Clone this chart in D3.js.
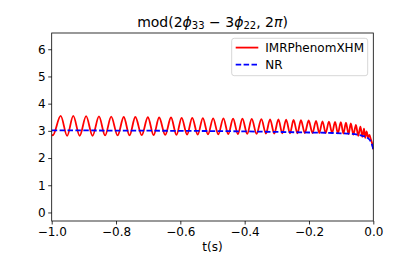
<!DOCTYPE html>
<html>
<head>
<meta charset="utf-8">
<script src="https://cdn.jsdelivr.net/npm/d3@7"></script>
<style>
  body { margin: 0; background: #fff; }
  svg { font-family: "DejaVu Sans", sans-serif; }
</style>
</head>
<body>
<div id="chart"></div>
<script>
// IMRPhenomXHM: alternating peaks / troughs
const xhmTime = [
  -1.000, -0.997, -0.972, -0.952, -0.933, -0.913, -0.893, -0.873, -0.853, -0.834,
  -0.815, -0.795, -0.776, -0.758, -0.740, -0.720, -0.701, -0.683, -0.666, -0.647,
  -0.629, -0.612, -0.596, -0.579, -0.563, -0.546, -0.530, -0.514, -0.498, -0.482,
  -0.466, -0.451, -0.436, -0.421, -0.407, -0.392, -0.378, -0.363, -0.348, -0.334,
  -0.321, -0.308, -0.295, -0.283, -0.271, -0.259, -0.248, -0.236, -0.225, -0.213,
  -0.201, -0.189, -0.178, -0.168, -0.158, -0.148, -0.138, -0.128, -0.119, -0.110,
  -0.101, -0.093, -0.085, -0.077, -0.070, -0.062, -0.054, -0.047, -0.040, -0.034,
  -0.029, -0.025, -0.021, -0.016, -0.012, -0.008, -0.004, 0.000
];
const xhmValue = [
  2.86, 2.83, 3.55, 2.82, 3.55, 2.82, 3.54, 2.82, 3.53, 2.83,
  3.52, 2.83, 3.51, 2.83, 3.51, 2.84, 3.50, 2.84, 3.49, 2.85,
  3.49, 2.85, 3.48, 2.86, 3.48, 2.86, 3.47, 2.87, 3.46, 2.87,
  3.46, 2.88, 3.45, 2.88, 3.45, 2.89, 3.44, 2.89, 3.43, 2.90,
  3.42, 2.90, 3.42, 2.91, 3.41, 2.91, 3.40, 2.91, 3.39, 2.92,
  3.38, 2.92, 3.37, 2.92, 3.35, 2.92, 3.34, 2.92, 3.33, 2.91,
  3.32, 2.90, 3.30, 2.88, 3.27, 2.86, 3.22, 2.82, 3.15, 2.78,
  3.08, 2.74, 2.98, 2.76, 2.85, 2.70, 2.55, 2.32
];

// NR
const nrTime = [-1.0, -0.8, -0.6, -0.4, -0.3, -0.2, -0.15, -0.1, -0.07, -0.05, -0.035, -0.02, -0.01, -0.005, 0.0];
const nrValue = [3.02, 3.01, 3.00, 2.98, 2.96, 2.94, 2.93, 2.91, 2.89, 2.86, 2.82, 2.76, 2.65, 2.53, 2.32];

const xTicks = [-1.0, -0.8, -0.6, -0.4, -0.2, 0.0];
const yTicks = [0, 1, 2, 3, 4, 5, 6];
const seriesNames = ["IMRPhenomXHM", "NR"];

const width = 415, height = 277;
const margin = { left: 51.7, right: 41.7, top: 33, bottom: 56 };
const plotW = width - margin.left - margin.right;
const plotH = height - margin.top - margin.bottom;

const svg = d3.select("#chart")
  .append("svg")
  .attr("width", width)
  .attr("height", height);

const x = d3.scaleLinear().domain([-1, 0]).range([0, plotW]);
const y = d3.scaleLinear().domain([-0.314, 6.597]).range([plotH, 0]);

const g = svg.append("g").attr("transform", `translate(${margin.left},${margin.top})`);

g.append("clipPath").attr("id", "clip")
  .append("rect").attr("x", 0).attr("y", 0).attr("width", plotW).attr("height", plotH);

const line = d3.line()
  .x((d) => x(d[0]))
  .y((d) => y(d[1]))
  .curve(d3.curveMonotoneX);

const plot = g.append("g").attr("clip-path", "url(#clip)");

plot.append("path")
  .datum(xhmTime.map((t, i) => [t, xhmValue[i]]))
  .attr("fill", "none")
  .attr("stroke", "#ff0000")
  .attr("stroke-width", 1.8)
  .attr("d", line);

plot.append("path")
  .datum(nrTime.map((t, i) => [t, nrValue[i]]))
  .attr("fill", "none")
  .attr("stroke", "#0000ff")
  .attr("stroke-width", 1.8)
  .attr("stroke-dasharray", "5.5,2.4")
  .attr("d", line);

// axes
const minus = (s) => s.replace("-", "\u2212");
const xAxis = g.append("g")
  .attr("transform", `translate(0,${plotH})`)
  .call(d3.axisBottom(x).tickValues(xTicks).tickSize(3.5).tickPadding(2.5)
    .tickFormat((d) => minus(d3.format(".1f")(d))));
const yAxis = g.append("g")
  .call(d3.axisLeft(y).tickValues(yTicks).tickSize(3.5).tickPadding(2.5)
    .tickFormat(d3.format("d")));

[xAxis, yAxis].forEach((a) => {
  a.select(".domain").remove();
  a.selectAll("line").attr("stroke", "#000").attr("stroke-width", 0.8);
  a.selectAll("text").attr("font-size", 12).attr("fill", "#000")
    .attr("font-family", "DejaVu Sans, sans-serif");
});

// spines
g.append("rect")
  .attr("x", 0).attr("y", 0).attr("width", plotW).attr("height", plotH)
  .attr("fill", "none").attr("stroke", "#000").attr("stroke-width", 0.8);

// x label
g.append("text")
  .attr("x", plotW / 2)
  .attr("y", plotH + 29.5)
  .attr("text-anchor", "middle")
  .attr("font-size", 12)
  .text("t(s)");

// title
const title = svg.append("text")
  .attr("x", margin.left + plotW / 2)
  .attr("y", 26.5)
  .attr("text-anchor", "middle")
  .attr("font-size", 14);
title.append("tspan").text("mod(2");
title.append("tspan").attr("font-style", "italic").text("\u03d5");
title.append("tspan").attr("font-size", 10).attr("dy", 2.8).text("33");
title.append("tspan").attr("dy", -2.8).text(" \u2212 3");
title.append("tspan").attr("font-style", "italic").text("\u03d5");
title.append("tspan").attr("font-size", 10).attr("dy", 2.8).text("22");
title.append("tspan").attr("dy", -2.8).text(", 2");
title.append("tspan").attr("font-style", "italic").text("\u03c0");
title.append("tspan").text(")");

// legend
const legend = g.append("g").attr("transform", `translate(${plotW - 141.6},5.3)`);
legend.append("rect")
  .attr("width", 136).attr("height", 37.4)
  .attr("rx", 2.5)
  .attr("fill", "#fff").attr("fill-opacity", 0.8)
  .attr("stroke", "#cccccc").attr("stroke-width", 0.8);

const legendColors = ["#ff0000", "#0000ff"];
const legendDash = [null, "5.5,2.4"];
seriesNames.forEach((name, i) => {
  const row = legend.append("g").attr("transform", `translate(0,${9.3 + i * 17})`);
  row.append("line")
    .attr("x1", 4).attr("x2", 26.6).attr("y1", 0).attr("y2", 0)
    .attr("stroke", legendColors[i]).attr("stroke-width", 1.8)
    .attr("stroke-dasharray", legendDash[i]);
  row.append("text")
    .attr("x", 33.6).attr("y", 0).attr("dy", "0.35em")
    .attr("font-size", 12)
    .text(name);
});
</script>
</body>
</html>
